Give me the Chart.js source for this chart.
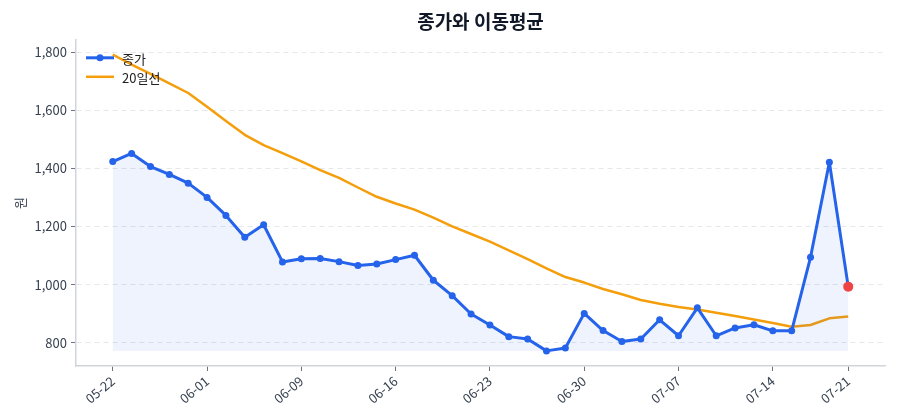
<!DOCTYPE html>
<html>
<head>
<meta charset="utf-8">
<script src="https://cdn.jsdelivr.net/npm/chart.js@4.4.1/dist/chart.umd.min.js"></script>
<style>
  html, body { margin: 0; padding: 0; background: #fff; }
  #wrap { width: 900px; height: 420px; }
</style>
</head>
<body>
<div id="wrap"><canvas id="c" width="900" height="420"></canvas></div>
<script>
// 날짜 (x축 라벨)
const dates = ['05-22','05-23','05-26','05-27','05-29','06-01','06-02','06-04','06-05','06-08',
               '06-09','06-10','06-11','06-12','06-13','06-16','06-17','06-18','06-19','06-20',
               '06-23','06-24','06-25','06-26','06-27','06-30','07-01','07-02','07-03','07-04',
               '07-07','07-08','07-09','07-10','07-11','07-14','07-15','07-16','07-18','07-21'];
// 종가
const closeVals = [1423,1451,1406,1379,1349,1300,1238,1163,1206,1078,
                   1089,1090,1079,1066,1071,1086,1101,1015,962,899,
                   861,821,813,772,782,901,842,804,813,879,
                   824,920,824,851,862,841,841,1094,1421,993];
// 20일 이동평균
const ma20 = [1791,1757,1725,1692,1659,1612,1563,1515,1480,1452,
              1424,1394,1367,1334,1302,1279,1258,1230,1200,1174,
              1148,1118,1088,1056,1026,1007,985,967,947,934,
              923,914,903,892,880,868,855,861,884,890];
const xTickIdx = [0,5,10,15,20,25,30,35,39];
const yTicks = [800,1000,1200,1400,1600,1800];

const BLUE = '#2563eb', ORANGE = '#f59e0b', RED = '#ef4444';
const FONT = "'Noto Sans CJK KR', 'Noto Sans', sans-serif";
const last = closeVals.length - 1;

// 범례를 그래프 안쪽 왼쪽 위에 그림
const legendInside = {
  id: 'legendInside',
  afterDraw(chart) {
    const ctx = chart.ctx, a = chart.chartArea;
    chart.data.datasets.forEach((ds, k) => {
      const y = a.top + 18 + k * 19;
      const x0 = a.left + 10, x1 = a.left + 38;
      ctx.save();
      ctx.strokeStyle = ds.borderColor;
      ctx.lineWidth = ds.borderWidth;
      ctx.beginPath(); ctx.moveTo(x0, y); ctx.lineTo(x1, y); ctx.stroke();
      if (k === 0) {
        ctx.fillStyle = BLUE;
        ctx.beginPath(); ctx.arc((x0 + x1) / 2, y, 3.5, 0, Math.PI * 2); ctx.fill();
      }
      ctx.fillStyle = '#222';
      ctx.font = '13px ' + FONT;
      ctx.textBaseline = 'middle';
      ctx.fillText(ds.label, x1 + 8, y + 1);
      ctx.restore();
    });
  }
};

new Chart(document.getElementById('c'), {
  type: 'line',
  data: {
    datasets: [
      {
        label: '종가',
        data: closeVals.map((v, i) => ({x: i, y: v})),
        borderColor: BLUE,
        borderWidth: 3,
        borderJoinStyle: 'round',
        backgroundColor: 'rgba(37,99,235,0.08)',
        fill: {value: Math.min(...closeVals)},
        pointRadius: ctx => ctx.dataIndex === last ? 5 : 3.5,
        pointBackgroundColor: ctx => ctx.dataIndex === last ? RED : BLUE,
        pointBorderWidth: 0,
        tension: 0
      },
      {
        label: '20일선',
        data: ma20.map((v, i) => ({x: i, y: v})),
        borderColor: ORANGE,
        borderWidth: 2.5,
        borderJoinStyle: 'round',
        pointRadius: 0,
        fill: false,
        tension: 0
      }
    ]
  },
  options: {
    responsive: false,
    animation: false,
    layout: {padding: {left: 0, right: 15, top: 0, bottom: 0}},
    plugins: {
      legend: {display: false},
      tooltip: {enabled: false},
      title: {
        display: true,
        text: '종가와 이동평균',
        fullSize: false,
        color: '#111827',
        font: {family: FONT, size: 19, weight: 'bold'},
        padding: {top: 10, bottom: 7}
      }
    },
    scales: {
      x: {
        type: 'linear',
        min: -1.95,
        max: last + 1.95,
        afterBuildTicks: s => { s.ticks = xTickIdx.map(v => ({value: v})); },
        afterFit: s => { s.height = 54; },
        ticks: {
          autoSkip: false,
          minRotation: 40,
          maxRotation: 40,
          color: '#374151',
          padding: 2,
          font: {family: FONT, size: 13},
          callback: v => dates[v]
        },
        grid: {drawOnChartArea: false, drawTicks: true, tickLength: 5, tickColor: '#6b7280', tickWidth: 1},
        border: {color: '#d1d5db', width: 1.5}
      },
      y: {
        min: 720,
        max: 1842,
        afterBuildTicks: s => { s.ticks = yTicks.map(v => ({value: v})); },
        afterFit: s => { s.width = 76; },
        ticks: {
          color: '#374151',
          padding: 4,
          font: {family: FONT, size: 13},
          callback: v => v.toLocaleString('en-US')
        },
        title: {
          display: true,
          text: '원',
          color: '#374151',
          font: {family: FONT, size: 13},
          padding: {top: 12, bottom: 0}
        },
        grid: {
          color: '#e5e7eb',
          lineWidth: 1,
          tickLength: 5,
          tickColor: '#6b7280',
          tickBorderDash: []
        },
        border: {color: '#d1d5db', width: 1.5, dash: [5, 4]}
      }
    }
  },
  plugins: [legendInside]
});
</script>
</body>
</html>
